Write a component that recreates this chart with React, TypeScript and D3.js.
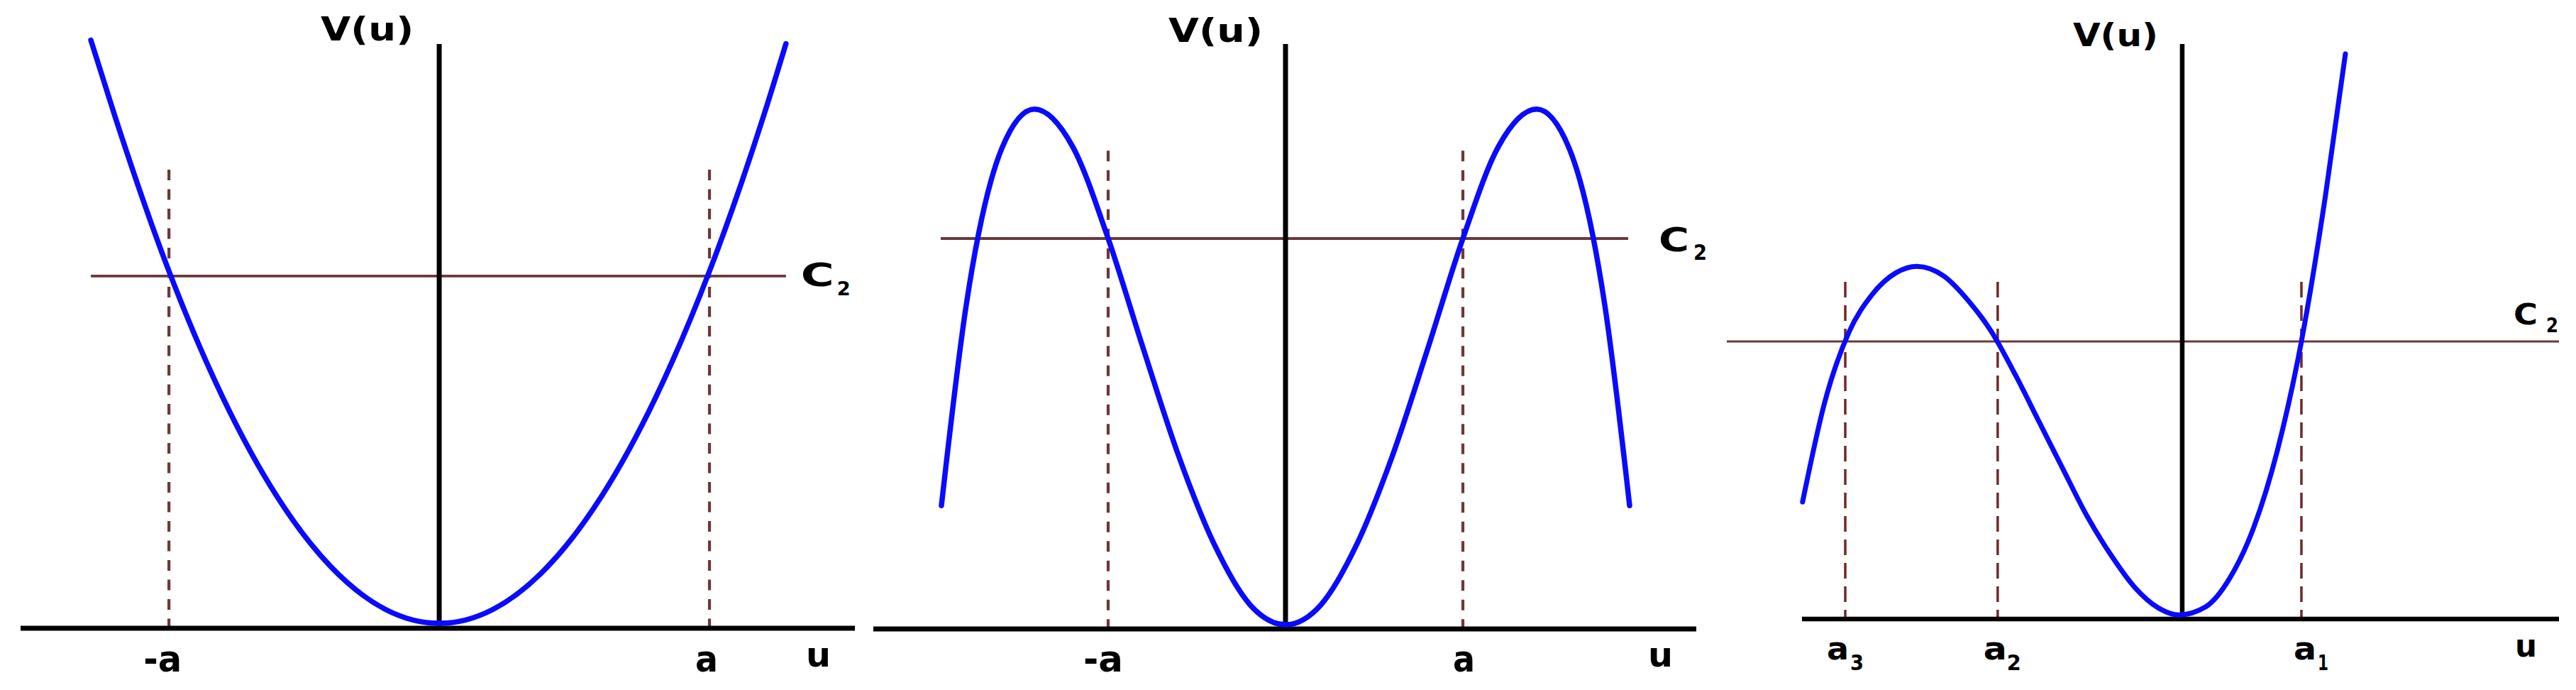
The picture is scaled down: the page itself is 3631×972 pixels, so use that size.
import React from "react";
import * as d3 from "d3";

const W = 3631;
const H = 972;

// ---------- Data (u in units of the turning point, V in units of C2) ----------
// Panel 1: single well
const p1U = [-1.289, -1.2, -1.0, -0.8, -0.6, -0.4, -0.2, 0, 0.2, 0.4, 0.6, 0.8, 1.0, 1.2, 1.283];
const p1V = [1.67, 1.454, 1.014, 0.654, 0.374, 0.174, 0.054, 0.014, 0.054, 0.174, 0.374, 0.654, 1.014, 1.454, 1.66];

// Panel 2: well between two barriers
const p2U = [-1.94, -1.8, -1.6, -1.416, -1.2, -1.0, -0.8, -0.6, -0.4, -0.2, 0, 0.2, 0.4, 0.6, 0.8, 1.0, 1.2, 1.416, 1.6, 1.8, 1.94];
const p2V = [0.316, 0.83, 1.23, 1.331, 1.235, 1.0, 0.715, 0.44, 0.215, 0.062, 0.011, 0.062, 0.215, 0.44, 0.715, 1.0, 1.235, 1.331, 1.23, 0.83, 0.316];

// Panel 3: asymmetric (cubic-like) well
const p3U = [-3.185, -3.0, -2.8, -2.6, -2.4, -2.226, -2.0, -1.8, -1.6, -1.4, -1.2, -1.0, -0.8, -0.6, -0.4, -0.2, -0.03, 0.2, 0.4, 0.6, 0.8, 1.0, 1.2, 1.369];
const p3V = [0.422, 0.78, 1.03, 1.17, 1.248, 1.271, 1.236, 1.15, 1.035, 0.88, 0.71, 0.54, 0.372, 0.232, 0.115, 0.04, 0.015, 0.045, 0.148, 0.33, 0.61, 1.0, 1.52, 2.036];

const c2Level = 1;
const p1Turn = [-1, 1];
const p1TurnLabels = ["-a", "a"];
const p2Turn = [-1, 1];
const p2TurnLabels = ["-a", "a"];
const p3Turn = [-2.827, -1.548, 1.0];
const p3TurnLabels = [["a", "3"], ["a", "2"], ["a", "1"]];

const xDomains = [[-1.549, 1.538], [-2.324, 2.316], [-3.19, 3.161]];
const yTops = [1.659, 1.498, 2.072];
const c2Spans = [[-1.289, 1.283], [-1.944, 1.932], [-3.821, 3.161]];
const dashTops = [1.302, 1.225, 1.215];

// ---------- Layout / styles ----------
const layout = [
  { xr: [29, 1205], yr: [885, 62], axisW: 7, curveW: 7.5, c2W: 3.8, dashW: 4.2, dash: "15 12.5", dashColor: "#6b3838",
    vu: { dx: -167, y: 57, w: 131, fs: 46 },
    c2: { dx: 21, dy: 14, w: 47, fs: 44, sdx: 72, sdy: 27, sw: 19, sfs: 26 },
    ticks: [{ dx: -36, w: 54 }, { dx: -20, w: 32 }], tickY: 946, tickFs: 52,
    u: { dx: -69, y: 939, w: 35, fs: 48 } },
  { xr: [1231, 2391], yr: [886, 62], axisW: 7, curveW: 7.5, c2W: 4, dashW: 4.2, dash: "15 12.5", dashColor: "#6b3838",
    vu: { dx: -165, y: 59, w: 133, fs: 46 },
    c2: { dx: 43, dy: 18, w: 43, fs: 46, sdx: 92, sdy: 30, sw: 19, sfs: 31 },
    ticks: [{ dx: -35, w: 56 }, { dx: -14, w: 31 }], tickY: 946, tickFs: 52,
    u: { dx: -68, y: 939, w: 35, fs: 48 } },
  { xr: [2540, 3607], yr: [872, 62], axisW: 6.5, curveW: 7, c2W: 3, dashW: 3.5, dash: "22 11", dashColor: "#6e2a2a",
    vu: { dx: -154, y: 65, w: 120, fs: 45 },
    c2: { dx: -64, dy: -24, w: 34, fs: 40, sdx: -18, sdy: -13, sw: 17, sfs: 28 },
    ticks: [{ dx: -26, w: 31 }, { dx: -20, w: 33 }, { dx: -11, w: 32 }], tickY: 929, tickFs: 44,
    subs: [{ dx: 7, w: 19 }, { dx: 13, w: 20 }, { dx: 23, w: 15 }], subY: 944, subFs: 30,
    u: { dx: -62, y: 925, w: 31, fs: 44 } },
];

const BLUE = "#0a0aff";
const C2COLOR = "#6b3838";
const FONT = "'DejaVu Sans', Verdana, 'Liberation Sans', Arial, sans-serif";

function T({ x, y, w, fs, children }: { x: number; y: number; w: number; fs: number; children: React.ReactNode }) {
  return (
    <text x={x} y={y} fontSize={fs} fontFamily={FONT} fontWeight="bold" fill="#000"
      textLength={w} lengthAdjust="spacingAndGlyphs">{children}</text>
  );
}

function Panel({ idx, us, vs, turns }: { idx: number; us: number[]; vs: number[]; turns: number[] }) {
  const L = layout[idx] as any;
  const x = d3.scaleLinear().domain(xDomains[idx]).range(L.xr);
  const y = d3.scaleLinear().domain([0, yTops[idx]]).range(L.yr);
  const pts: [number, number][] = us.map((u, i) => [u, vs[i]]);
  const line = d3.line<[number, number]>()
    .x((d) => x(d[0]))
    .y((d) => y(d[1]))
    .curve(d3.curveMonotoneX);
  const x0 = x(0);
  const [c2a, c2b] = c2Spans[idx];
  return (
    <g>
      {/* C2 level */}
      <line x1={x(c2a)} x2={x(c2b)} y1={y(c2Level)} y2={y(c2Level)} stroke={C2COLOR} strokeWidth={L.c2W} />
      {/* turning point dashes */}
      {turns.map((t, i) => (
        <line key={i} x1={x(t)} x2={x(t)} y1={y(dashTops[idx])} y2={y(0)} stroke={L.dashColor}
          strokeWidth={L.dashW} strokeDasharray={L.dash} />
      ))}
      {/* axes */}
      <line x1={L.xr[0]} x2={L.xr[1]} y1={y(0)} y2={y(0)} stroke="#000" strokeWidth={L.axisW} />
      <line x1={x0} x2={x0} y1={y(yTops[idx])} y2={y(0)} stroke="#000" strokeWidth={L.axisW} />
      {/* potential */}
      <path d={line(pts) || ""} fill="none" stroke={BLUE} strokeWidth={L.curveW} strokeLinecap="round" strokeLinejoin="round" />
      {/* labels */}
      <T x={x0 + L.vu.dx} y={L.vu.y} w={L.vu.w} fs={L.vu.fs}>V(u)</T>
      <T x={x(c2b) + L.c2.dx} y={y(c2Level) + L.c2.dy} w={L.c2.w} fs={L.c2.fs}>C</T>
      <T x={x(c2b) + L.c2.sdx} y={y(c2Level) + L.c2.sdy} w={L.c2.sw} fs={L.c2.sfs}>2</T>
      <T x={L.xr[1] + L.u.dx} y={L.u.y} w={L.u.w} fs={L.u.fs}>u</T>
    </g>
  );
}

export default function App() {
  const L3 = layout[2] as any;
  const x1 = d3.scaleLinear().domain(xDomains[0]).range(layout[0].xr);
  const x2 = d3.scaleLinear().domain(xDomains[1]).range(layout[1].xr);
  const x3 = d3.scaleLinear().domain(xDomains[2]).range(L3.xr);
  return (
    <svg width={W} height={H} viewBox={`0 0 ${W} ${H}`} style={{ position: "absolute", left: 0, top: 0, background: "#fff" }}>
      <rect x={0} y={0} width={W} height={H} fill="#fff" />
      <Panel idx={0} us={p1U} vs={p1V} turns={p1Turn} />
      <Panel idx={1} us={p2U} vs={p2V} turns={p2Turn} />
      <Panel idx={2} us={p3U} vs={p3V} turns={p3Turn} />
      {p1Turn.map((t, i) => (
        <T key={"l1" + i} x={x1(t) + layout[0].ticks[i].dx} y={layout[0].tickY} w={layout[0].ticks[i].w} fs={layout[0].tickFs}>{p1TurnLabels[i]}</T>
      ))}
      {p2Turn.map((t, i) => (
        <T key={"l2" + i} x={x2(t) + layout[1].ticks[i].dx} y={layout[1].tickY} w={layout[1].ticks[i].w} fs={layout[1].tickFs}>{p2TurnLabels[i]}</T>
      ))}
      {p3Turn.map((t, i) => (
        <g key={"l3" + i}>
          <T x={x3(t) + L3.ticks[i].dx} y={L3.tickY} w={L3.ticks[i].w} fs={L3.tickFs}>{p3TurnLabels[i][0]}</T>
          <T x={x3(t) + L3.subs[i].dx} y={L3.subY} w={L3.subs[i].w} fs={L3.subFs}>{p3TurnLabels[i][1]}</T>
        </g>
      ))}
    </svg>
  );
}
